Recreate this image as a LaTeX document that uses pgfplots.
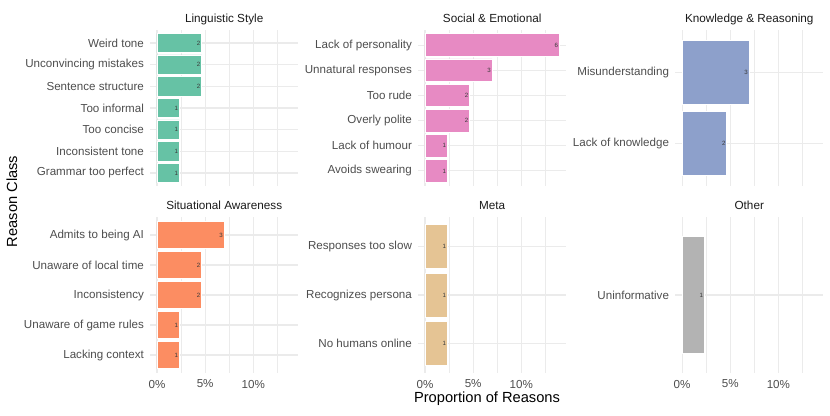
\documentclass[border=0pt]{standalone}
\usepackage{pgfplots}
\pgfplotsset{compat=1.18}
\usepackage{fontspec}
\setmainfont{Liberation Sans}
\definecolor{gridc}{HTML}{EBEBEB}
\definecolor{tickc}{HTML}{4D4D4D}
\definecolor{stripc}{HTML}{1A1A1A}
\definecolor{nodec}{HTML}{3A3A3A}
\definecolor{cLing}{HTML}{66C2A5}
\definecolor{cSoc}{HTML}{E78AC3}
\definecolor{cKnow}{HTML}{8DA0CB}
\definecolor{cSit}{HTML}{FC8D62}
\definecolor{cMeta}{HTML}{E5C494}
\definecolor{cOth}{HTML}{B3B3B3}
\pgfplotsset{
  facet/.style={
    scale only axis, width=110.9pt, height=117pt, anchor=south west,
    xmin=-0.698, xmax=14.651,
    xbar, bar width=0.9,
    axis line style={draw=none},
    tick style={draw=none},
    xtick={0,5,10}, minor xtick={2.5,7.5,12.5},
    xmajorgrids, xminorgrids, ymajorgrids,
    major grid style={gridc, line width=0.8pt},
    minor grid style={gridc, line width=0.4pt},
    yticklabel style={font=\fontsize{8.7}{10}\selectfont, text=tickc, inner sep=0pt, xshift=-0.3pt},
    xticklabel style={font=\fontsize{8.7}{10}\selectfont, text=tickc, inner sep=0pt, yshift=-5pt},
    every axis title shift=0pt,
    title style={at={(0.5,1)}, anchor=base, yshift=5.6pt, font=\fontsize{8.8}{10}\selectfont, text=stripc},
    point meta=explicit symbolic,
    nodes near coords,
    every node near coord/.append style={anchor=east, font=\fontsize{4.6}{5}\selectfont, text=nodec, inner sep=0.8pt},
  },
  toprow/.style={xticklabels={,,}},
  botrow/.style={xticklabels={0\%,5\%,10\%}},
  barst/.style={draw=white, line width=0.6pt, fill=#1},
}
\begin{document}
\begin{tikzpicture}

% Linguistic Style
\begin{axis}[facet, toprow, at={(112.7pt,171.75pt)}, title={Linguistic Style},
  ymin=0.4, ymax=7.6, ytick={1,2,3,4,5,6,7},
  yticklabels={Grammar too perfect,Inconsistent tone,Too concise,Too informal,Sentence structure,Unconvincing mistakes,Weird tone}]
\addplot[barst=cLing] coordinates {(2.3256,1) [1] (2.3256,2) [1] (2.3256,3) [1] (2.3256,4) [1] (4.6512,5) [2] (4.6512,6) [2] (4.6512,7) [2]};
\end{axis}

% Social & Emotional
\begin{axis}[facet, toprow, at={(313.7pt,171.75pt)}, title={Social \& Emotional},
  ymin=0.4, ymax=6.6, ytick={1,2,3,4,5,6},
  yticklabels={Avoids swearing,Lack of humour,Overly polite,Too rude,Unnatural responses,Lack of personality}]
\addplot[barst=cSoc] coordinates {(2.3256,1) [1] (2.3256,2) [1] (4.6512,3) [2] (4.6512,4) [2] (6.9767,5) [3] (13.9535,6) [6]};
\end{axis}

% Knowledge & Reasoning
\begin{axis}[facet, toprow, at={(506.5pt,171.75pt)}, title={Knowledge \& Reasoning},
  ymin=0.4, ymax=2.6, ytick={1,2},
  yticklabels={Lack of knowledge,Misunderstanding}]
\addplot[barst=cKnow] coordinates {(4.6512,1) [2] (6.9767,2) [3]};
\end{axis}

% Situational Awareness
\begin{axis}[facet, botrow, at={(112.7pt,31.5pt)}, title={Situational Awareness},
  ymin=0.4, ymax=5.6, ytick={1,2,3,4,5},
  yticklabels={Lacking context,Unaware of game rules,Inconsistency,Unaware of local time,Admits to being AI}]
\addplot[barst=cSit] coordinates {(2.3256,1) [1] (2.3256,2) [1] (4.6512,3) [2] (4.6512,4) [2] (6.9767,5) [3]};
\end{axis}

% Meta
\begin{axis}[facet, botrow, at={(313.7pt,31.5pt)}, title={Meta},
  ymin=0.4, ymax=3.6, ytick={1,2,3},
  yticklabels={No humans online,Recognizes persona,Responses too slow}]
\addplot[barst=cMeta] coordinates {(2.3256,1) [1] (2.3256,2) [1] (2.3256,3) [1]};
\end{axis}

% Other
\begin{axis}[facet, botrow, at={(506.5pt,31.5pt)}, title={Other},
  ymin=0.4, ymax=1.6, ytick={1},
  yticklabels={Uninformative}]
\addplot[barst=cOth] coordinates {(2.3256,1) [1]};
\end{axis}

\node[font=\fontsize{11}{13}\selectfont, text=black] at (365.25pt,12pt) {Proportion of Reasons};
\node[font=\fontsize{11}{13}\selectfont, text=black, rotate=90] at (9pt,160.1pt) {Reason Class};
\path[use as bounding box] (0,0) rectangle (622.5pt,311.25pt);
\end{tikzpicture}
\end{document}
